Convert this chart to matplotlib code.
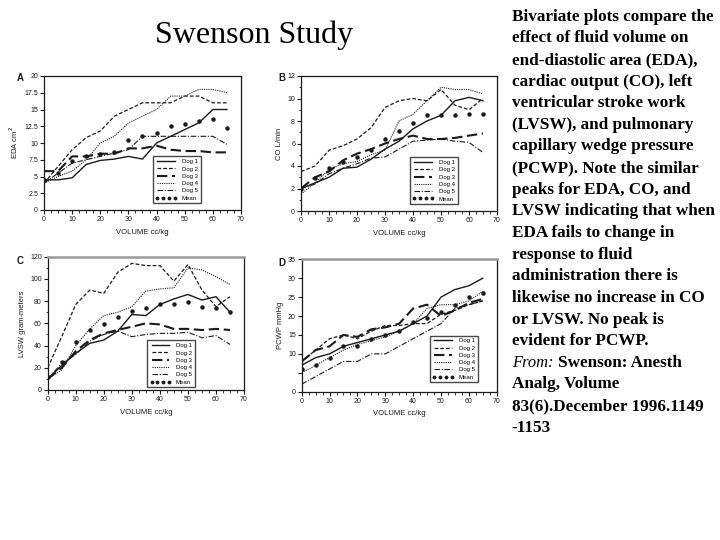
import matplotlib
matplotlib.use("Agg")
import matplotlib.pyplot as plt
from matplotlib.ticker import MultipleLocator
import numpy as np

volume = [0, 5, 10, 15, 20, 25, 30, 35, 40, 45, 50, 55, 60, 65]
series_names = ["Dog 1", "Dog 2", "Dog 3", "Dog 4", "Dog 5", "Mean"]

eda_dog1 = [4.5, 4.5, 4.8, 6.8, 7.4, 7.6, 8.0, 7.6, 10.0, 11.0, 12.0, 13.0, 15.0, 15.0]
eda_dog2 = [4.0, 6.5, 9.0, 10.8, 11.8, 14.0, 15.0, 16.0, 16.0, 16.0, 17.0, 17.0, 16.0, 16.0]
eda_dog3 = [5.8, 5.8, 8.0, 8.0, 8.4, 8.4, 9.2, 9.2, 9.6, 9.0, 8.8, 8.8, 8.6, 8.6]
eda_dog4 = [4.0, 5.0, 5.8, 7.5, 10.0, 11.0, 13.0, 14.0, 15.0, 17.0, 17.0, 18.0, 18.0, 17.5]
eda_dog5 = [4.0, 5.5, 7.0, 7.5, 8.0, 8.5, 9.0, 11.0, 11.0, 11.0, 11.0, 11.0, 11.0, 9.8]
eda_mean = [4.5, 5.5, 7.3, 8.0, 8.3, 8.7, 10.5, 11.0, 11.5, 12.5, 12.8, 13.3, 13.6, 12.2]

co_dog1 = [2.0, 2.5, 3.0, 3.8, 3.9, 4.6, 5.5, 6.2, 7.3, 8.0, 8.5, 9.8, 10.1, 9.8]
co_dog2 = [3.5, 4.0, 5.4, 5.8, 6.4, 7.4, 9.2, 9.8, 10.0, 9.8, 10.8, 9.4, 9.0, 10.0]
co_dog3 = [2.0, 3.0, 3.5, 4.5, 5.1, 5.5, 6.0, 6.4, 6.7, 6.4, 6.4, 6.5, 6.7, 6.9]
co_dog4 = [1.5, 2.5, 3.7, 4.2, 4.4, 5.0, 5.4, 8.0, 8.6, 9.8, 11.0, 10.8, 10.8, 10.4]
co_dog5 = [2.0, 2.4, 3.3, 3.8, 4.2, 4.7, 4.8, 5.5, 6.2, 6.3, 6.4, 6.2, 6.1, 5.2]
co_mean = [2.0, 2.9, 3.8, 4.4, 4.8, 5.4, 6.4, 7.1, 7.8, 8.5, 8.5, 8.5, 8.6, 8.6]

lvsw_dog1 = [10, 22, 33, 42, 45, 53, 68, 67, 77, 82, 86, 81, 84, 70]
lvsw_dog2 = [20, 48, 77, 90, 87, 106, 114, 112, 112, 98, 113, 90, 75, 84]
lvsw_dog3 = [10, 20, 35, 45, 51, 54, 57, 60, 59, 55, 55, 54, 55, 54]
lvsw_dog4 = [10, 18, 40, 55, 67, 70, 75, 89, 91, 92, 110, 108, 102, 95]
lvsw_dog5 = [10, 24, 32, 44, 50, 53, 48, 50, 51, 51, 52, 47, 49, 41]
lvsw_mean = [12, 25, 43, 54, 59, 66, 71, 74, 77, 77, 79, 75, 74, 70]

pcwp_dog1 = [7, 9, 10, 12, 13, 14, 15, 16, 18, 20, 25, 27, 28, 30]
pcwp_dog2 = [8, 11, 14, 15, 14, 16, 17.5, 17.5, 18, 18, 20.5, 21.5, 23, 24]
pcwp_dog3 = [8, 11, 12, 15, 14.5, 16.5, 17, 18, 22, 23, 20, 21.5, 23.5, 24.5]
pcwp_dog4 = [5, 7, 9, 11, 12.5, 13.5, 14.5, 16, 18, 22, 23, 23, 24, 26.5]
pcwp_dog5 = [2, 4, 6, 8, 8, 10, 10, 12, 14, 16, 18, 22, 23, 24]
pcwp_mean = [6, 7, 9, 12, 12, 14, 15, 16, 18.5, 19.5, 21, 23, 25, 26]

W, H = 720, 540
fig = plt.figure(figsize=(7.2, 5.4), dpi=100)
fig.patch.set_facecolor("white")

def fx(px):
    return px / W

def fy(py):
    return 1 - py / H

INK = "#1a1a1a"
styles = [
    dict(ls="-", lw=1.0),
    dict(ls=(0, (3, 1.6)), lw=0.9),
    dict(ls=(0, (5, 2.2)), lw=1.5),
    dict(ls=(0, (1, 1)), lw=0.8),
    dict(ls=(0, (5, 1.5, 1, 1.5)), lw=0.8),
]

panels = [
    dict(rect=(44, 76, 241, 210), letter="A", lpos=(20, 78),
         data=[eda_dog1, eda_dog2, eda_dog3, eda_dog4, eda_dog5, eda_mean],
         ylim=(0, 20), yminor=None, ylabel="EDA cm$^2$",
         yticks=[0, 2.5, 5, 7.5, 10, 12.5, 15, 17.5, 20],
         yticklabels=["0", "2.5", "5", "7.5", "10", "12.5", "15", "17.5", "20"],
         leg=(0.553, 0.05), topgray=False),
    dict(rect=(301, 76, 497, 211), letter="B", lpos=(282, 78),
         data=[co_dog1, co_dog2, co_dog3, co_dog4, co_dog5, co_mean],
         ylim=(0, 12), yminor=1, ylabel="CO L/min",
         yticks=[0, 2, 4, 6, 8, 10, 12],
         yticklabels=["0", "2", "4", "6", "8", "10", "12"],
         leg=(0.556, 0.05), topgray=False),
    dict(rect=(47.7, 256.7, 244, 390), letter="C", lpos=(20, 261),
         data=[lvsw_dog1, lvsw_dog2, lvsw_dog3, lvsw_dog4, lvsw_dog5, lvsw_mean],
         ylim=(0, 120), yminor=10, ylabel="LVSW gram-meters",
         yticks=[0, 20, 40, 60, 80, 100, 120],
         yticklabels=["0", "20", "40", "60", "80", "100", "120"],
         leg=(0.506, 0.02), topgray=True),
    dict(rect=(301.7, 259.3, 496.7, 391.7), letter="D", lpos=(282, 263),
         data=[pcwp_dog1, pcwp_dog2, pcwp_dog3, pcwp_dog4, pcwp_dog5, pcwp_mean],
         ylim=(0, 35), yminor=None, ylabel="PCWP mmHg",
         yticks=[0, 5, 10, 15, 20, 25, 30, 35],
         yticklabels=["0", "", "10", "15", "20", "25", "30", "35"],
         leg=(0.658, 0.07), topgray=True),
]

SANS = ["Liberation Sans", "DejaVu Sans"]

for p in panels:
    x0, y0, x1, y1 = p["rect"]
    ax = fig.add_axes([fx(x0), fy(y1), fx(x1) - fx(x0), fy(y0) - fy(y1)])
    handles = []
    for i, (name, vals) in enumerate(zip(series_names, p["data"])):
        if i < 5:
            h, = ax.plot(volume, vals, color=INK, label=name, **styles[i])
        else:
            h, = ax.plot(volume, vals, ls="none", marker="o", ms=2.2,
                         color=INK, label=name)
        handles.append(h)
    ax.set_xlim(0, 70)
    ax.set_ylim(*p["ylim"])
    ax.set_xticks([0, 10, 20, 30, 40, 50, 60, 70])
    ax.xaxis.set_minor_locator(MultipleLocator(2.5))
    ax.set_yticks(p["yticks"])
    ax.set_yticklabels(p["yticklabels"])
    if p["yminor"]:
        ax.yaxis.set_minor_locator(MultipleLocator(p["yminor"]))
    ax.tick_params(which="major", direction="out", length=2.8, width=0.8,
                   labelsize=5, colors=INK, pad=1.5)
    ax.tick_params(which="minor", direction="out", length=1.8, width=0.6,
                   colors=INK)
    for lab in ax.get_xticklabels() + ax.get_yticklabels():
        lab.set_family(SANS)
    for s in ax.spines.values():
        s.set_color(INK)
        s.set_linewidth(0.9)
    if p["topgray"]:
        ax.spines["top"].set_color("#999999")
        ax.spines["top"].set_linewidth(1.8)
    ax.set_xlabel("VOLUME cc/kg", fontsize=5.5, family=SANS, color=INK, labelpad=4)
    ax.set_ylabel(p["ylabel"], fontsize=5.5, family=SANS, color=INK, labelpad=3)
    leg = ax.legend(handles=handles, loc="lower left", bbox_to_anchor=p["leg"],
                    frameon=True, fancybox=False, handlelength=3.6,
                    labelspacing=0.35, borderpad=0.45, handletextpad=0.8,
                    borderaxespad=0, markerscale=0.8, numpoints=4,
                    prop=dict(family=SANS, size=4.3))
    leg.get_frame().set_edgecolor(INK)
    leg.get_frame().set_linewidth(1.0)
    fig.text(fx(p["lpos"][0]), fy(p["lpos"][1]), p["letter"], fontsize=7,
             fontweight="bold", family=SANS, ha="center", va="center", color=INK)

SERIF = ["Liberation Serif", "DejaVu Serif"]

fig.text(fx(254), fy(43), "Swenson Study", fontsize=23, family=SERIF,
         ha="center", va="baseline", color="black")

lines = [
    "Bivariate plots compare the",
    "effect of fluid volume on",
    "end-diastolic area (EDA),",
    "cardiac output (CO), left",
    "ventricular stroke work",
    "(LVSW), and pulmonary",
    "capillary wedge pressure",
    "(PCWP). Note the similar",
    "peaks for EDA, CO, and",
    "LVSW indicating that when",
    "EDA fails to change in",
    "response to fluid",
    "administration there is",
    "likewise no increase in CO",
    "or LVSW. No peak is",
    "evident for PCWP.",
    None,
    "Analg, Volume",
    "83(6).December 1996.1149",
    "-1153",
]
FS = 12.35
base0 = 20.7
step = 21.63
renderer = fig.canvas.get_renderer()
for i, t in enumerate(lines):
    yb = base0 + i * step
    if t is None:
        tf = fig.text(fx(512.5), fy(yb), "From:", fontsize=FS - 0.5, family=SERIF,
                      style="italic", ha="left", va="baseline", color="black")
        bb = tf.get_window_extent(renderer=renderer)
        fig.text(fx(bb.x1 + 4), fy(yb), "Swenson: Anesth", fontsize=FS,
                 family=SERIF, fontweight="bold", ha="left", va="baseline",
                 color="black")
    else:
        fig.text(fx(511.5), fy(yb), t, fontsize=FS, family=SERIF,
                 fontweight="bold", ha="left", va="baseline", color="black")

fig.savefig("out.png", dpi=100, facecolor="white")
